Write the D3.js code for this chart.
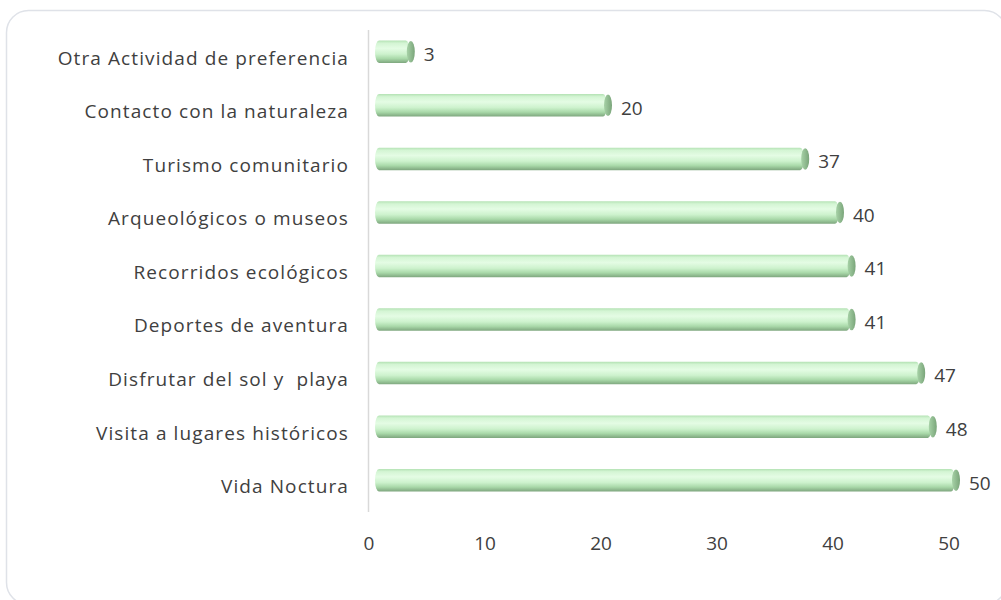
<!DOCTYPE html>
<html>
<head>
<meta charset="utf-8">
<script src="https://cdn.jsdelivr.net/npm/d3@7"></script>
<style>
  html, body { margin: 0; padding: 0; background: #fff; }
  svg { display: block; }
</style>
</head>
<body>
<svg></svg>
<script>
// categories, top to bottom as drawn
const categories = [
  "Otra Actividad de preferencia",
  "Contacto con la naturaleza",
  "Turismo comunitario",
  "Arqueológicos o museos",
  "Recorridos ecológicos",
  "Deportes de aventura",
  "Disfrutar del sol y  playa",
  "Visita a lugares históricos",
  "Vida Noctura"
];
const values = [3, 20, 37, 40, 41, 41, 47, 48, 50];
const ticks = [0, 10, 20, 30, 40, 50];

(function chart() {
  const width = 1001, height = 600;
  const svg = d3.select("svg")
      .attr("width", width)
      .attr("height", height);

  const font = "'Open Sans', sans-serif";
  const textColor = "#404040";

  // chart frame
  svg.append("rect")
      .attr("x", 6.5).attr("y", 10.5)
      .attr("width", 1000).attr("height", 594)
      .attr("rx", 22).attr("ry", 22)
      .attr("fill", "#fff")
      .attr("stroke", "#dfe2e8")
      .attr("stroke-width", 1.5);

  const x = d3.scaleLinear()
      .domain([0, 50])
      .range([369, 949]);

  const y = d3.scaleBand()
      .domain(categories)
      .range([25, 507])
      .paddingInner(0.58)
      .paddingOuter(0.29);

  // bar gradient
  const defs = svg.append("defs");
  const grad = defs.append("linearGradient")
      .attr("id", "barGrad")
      .attr("x1", 0).attr("y1", 0).attr("x2", 0).attr("y2", 1);
  [[0, "#b4e2b4"], [0.12, "#d4f5d4"], [0.35, "#e4fce4"], [0.6, "#cdf2cd"],
   [0.8, "#a9d9a9"], [1, "#7ea67e"]].forEach(s => {
    grad.append("stop").attr("offset", s[0]).attr("stop-color", s[1]);
  });
  const capGrad = defs.append("linearGradient")
      .attr("id", "capGrad")
      .attr("x1", 0).attr("y1", 0).attr("x2", 1).attr("y2", 0);
  capGrad.append("stop").attr("offset", 0).attr("stop-color", "#a7d2a7");
  capGrad.append("stop").attr("offset", 1).attr("stop-color", "#7aa57a");

  // vertical axis line
  svg.append("line")
      .attr("x1", 368.5).attr("x2", 368.5)
      .attr("y1", 30).attr("y2", 512)
      .attr("stroke", "#d9d9d9")
      .attr("stroke-width", 1.5);

  const data = categories.map((c, i) => ({ cat: c, val: values[i] }));
  const bh = y.bandwidth();
  const depth = 6;  // 3d offset of the cylinder

  const bars = svg.append("g")
    .selectAll("g")
    .data(data)
    .join("g");

  bars.append("rect")
      .attr("x", x(0) + depth)
      .attr("y", d => y(d.cat))
      .attr("width", d => x(d.val) - x(0))
      .attr("height", bh)
      .attr("rx", 4).attr("ry", bh / 2)
      .attr("fill", "url(#barGrad)");

  bars.append("ellipse")
      .attr("cx", d => x(d.val) + depth + 1)
      .attr("cy", d => y(d.cat) + bh / 2)
      .attr("rx", 4)
      .attr("ry", bh / 2 - 0.5)
      .attr("fill", "url(#capGrad)");

  // value labels
  bars.append("text")
      .attr("x", d => x(d.val) + depth + 14)
      .attr("y", d => y(d.cat) + bh / 2 + 2.5)
      .attr("dy", "0.36em")
      .attr("fill", textColor)
      .style("font-family", font)
      .style("font-size", "19px")
      .text(d => d.val);

  // category labels (sit a little lower than the 3d bars)
  svg.append("g")
    .selectAll("text")
    .data(data)
    .join("text")
      .attr("x", 349)
      .attr("y", d => y(d.cat) + bh / 2 + 6)
      .attr("dy", "0.36em")
      .attr("text-anchor", "end")
      .attr("fill", textColor)
      .style("font-family", font)
      .style("font-size", "19px")
      .style("letter-spacing", "1.1px")
      .style("white-space", "pre")
      .text(d => d.cat);

  // x tick labels
  svg.append("g")
    .selectAll("text")
    .data(ticks)
    .join("text")
      .attr("x", d => x(d))
      .attr("y", 543)
      .attr("dy", "0.36em")
      .attr("text-anchor", "middle")
      .attr("fill", textColor)
      .style("font-family", font)
      .style("font-size", "19px")
      .text(d => d);
})();
</script>
</body>
</html>
